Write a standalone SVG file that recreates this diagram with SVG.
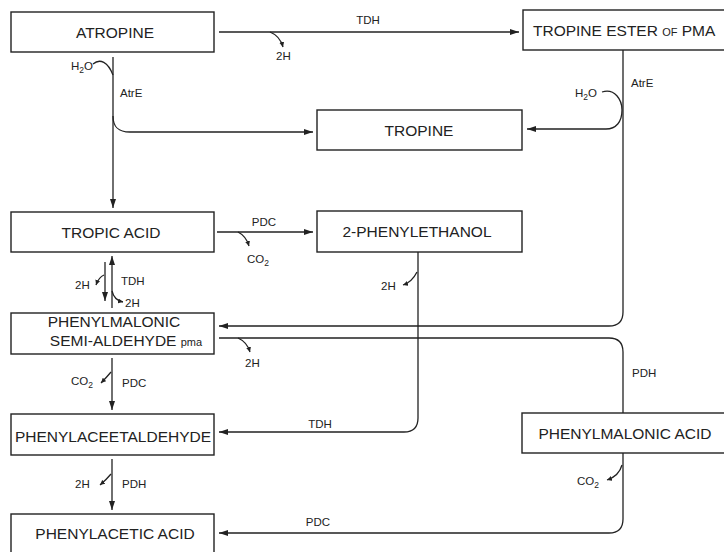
<svg xmlns="http://www.w3.org/2000/svg" width="724" height="552" viewBox="0 0 724 552">
<style>
.bx{fill:#fff;stroke:#222;stroke-width:1.4}
.t{font-family:"Liberation Sans",Arial,sans-serif;font-size:15.5px;fill:#222;text-anchor:middle}
.s{font-family:"Liberation Sans",Arial,sans-serif;font-size:11.5px;fill:#222}
.c{fill:none;stroke:#222;stroke-width:1.3}
</style>
<defs>
<marker id="a" markerUnits="userSpaceOnUse" markerWidth="9" markerHeight="6" refX="9" refY="3" orient="auto"><path d="M0,0 L9,3 L0,6 z" fill="#222"/></marker>
<marker id="b" markerUnits="userSpaceOnUse" markerWidth="5" markerHeight="5" refX="5" refY="2.5" orient="auto"><path d="M0,0 L5,2.5 L0,5 z" fill="#222"/></marker>
</defs>
<rect width="724" height="552" fill="#fff"/>
<g id="connectors">
<path class="c" d="M219 32 L519 32" marker-end="url(#a)"/>
<path class="c" d="M270 32 Q280 36 283 47" marker-end="url(#b)"/>
<path class="c" d="M113 57 L113 208" marker-end="url(#a)"/>
<path class="c" d="M93 64 C100 58 108 62 113 75"/>
<path class="c" d="M113 116 C113 127 118 132 130 132 L313 132" marker-end="url(#a)"/>
<path class="c" d="M623 50 L623 312 Q623 326 609 326 L219 326" marker-end="url(#a)"/>
<path class="c" d="M602 92 C615 88 622 100 622 110 C622 122 616 129 606 129 L527 129" marker-end="url(#a)"/>
<path class="c" d="M217 232 L313 232" marker-end="url(#a)"/>
<path class="c" d="M238 232 Q246 236 249 246" marker-end="url(#b)"/>
<path class="c" d="M112 308 L112 256" marker-end="url(#a)"/>
<path class="c" d="M105 262 L105 301" marker-end="url(#a)"/>
<path class="c" d="M104 275 Q99 277 96 285" marker-end="url(#b)"/>
<path class="c" d="M112 291 Q114 300 123 302" marker-end="url(#b)"/>
<path class="c" d="M219 338 L609 338 Q623 338 623 352 L623 413"/>
<path class="c" d="M238 338 Q247 342 250 352" marker-end="url(#b)"/>
<path class="c" d="M418 252 L418 418 Q418 432 404 432 L219 432" marker-end="url(#a)"/>
<path class="c" d="M417 272 Q412 282 403 285" marker-end="url(#b)"/>
<path class="c" d="M112 358 L112 410" marker-end="url(#a)"/>
<path class="c" d="M111 372 Q106 378 101 383" marker-end="url(#b)"/>
<path class="c" d="M112 459 L112 510" marker-end="url(#a)"/>
<path class="c" d="M111 474 Q106 480 100 485" marker-end="url(#b)"/>
<path class="c" d="M623 453 L623 519 Q623 533 609 533 L219 533" marker-end="url(#a)"/>
<path class="c" d="M622 465 Q619 476 607 480" marker-end="url(#b)"/>
<text class="s" x="368" y="24" text-anchor="middle">TDH</text>
<text class="s" x="276" y="60">2H</text>
<text class="s" x="71" y="70">H<tspan font-size="8.5" dy="3">2</tspan><tspan dy="-3">O</tspan></text>
<text class="s" x="120" y="97" font-size="10.5">AtrE</text>
<text class="s" x="575" y="97">H<tspan font-size="8.5" dy="3">2</tspan><tspan dy="-3">O</tspan></text>
<text class="s" x="631" y="87" font-size="10.5">AtrE</text>
<text class="s" x="264" y="226" text-anchor="middle">PDC</text>
<text class="s" x="247" y="263">CO<tspan font-size="8.5" dy="3">2</tspan></text>
<text class="s" x="75" y="289">2H</text>
<text class="s" x="121" y="285">TDH</text>
<text class="s" x="125" y="307">2H</text>
<text class="s" x="381" y="290">2H</text>
<text class="s" x="245" y="367">2H</text>
<text class="s" x="632" y="377">PDH</text>
<text class="s" x="71" y="385">CO<tspan font-size="8.5" dy="3">2</tspan></text>
<text class="s" x="122" y="387">PDC</text>
<text class="s" x="320" y="428" text-anchor="middle">TDH</text>
<text class="s" x="75" y="488">2H</text>
<text class="s" x="122" y="488">PDH</text>
<text class="s" x="577" y="485">CO<tspan font-size="8.5" dy="3">2</tspan></text>
<text class="s" x="318" y="526" text-anchor="middle">PDC</text>
</g>
<g id="atropine"><rect class="bx" x="11" y="12" width="203" height="40"/><text class="t" x="115" y="37.5">ATROPINE</text></g>
<g id="tropine-ester"><rect class="bx" x="523" y="10" width="210" height="40"/><text class="t" x="627" y="35.5" style="text-anchor:start" dx="-94">TROPINE ESTER <tspan font-size="11">OF</tspan> PMA</text></g>
<g id="tropine"><rect class="bx" x="317" y="110" width="205" height="40"/><text class="t" x="419" y="135.5">TROPINE</text></g>
<g id="tropic-acid"><rect class="bx" x="11" y="212" width="203" height="40"/><text class="t" x="111" y="237.5">TROPIC ACID</text></g>
<g id="phenylethanol"><rect class="bx" x="317" y="211" width="205" height="41"/><text class="t" x="417" y="237">2-PHENYLETHANOL</text></g>
<g id="pmsa"><rect class="bx" x="11" y="313" width="203" height="41"/><text class="t" x="114" y="327">PHENYLMALONIC</text><text class="t" x="126" y="346">SEMI-ALDEHYDE <tspan font-size="11">pma</tspan></text></g>
<g id="phenylacetaldehyde"><rect class="bx" x="11" y="414" width="203" height="41"/><text class="t" x="113" y="442">PHENYLACEETALDEHYDE</text></g>
<g id="phenylmalonic-acid"><rect class="bx" x="522" y="413" width="210" height="40"/><text class="t" x="625" y="438.5">PHENYLMALONIC ACID</text></g>
<g id="phenylacetic-acid"><rect class="bx" x="11" y="514" width="203" height="42"/><text class="t" x="115" y="539">PHENYLACETIC ACID</text></g>
</svg>
